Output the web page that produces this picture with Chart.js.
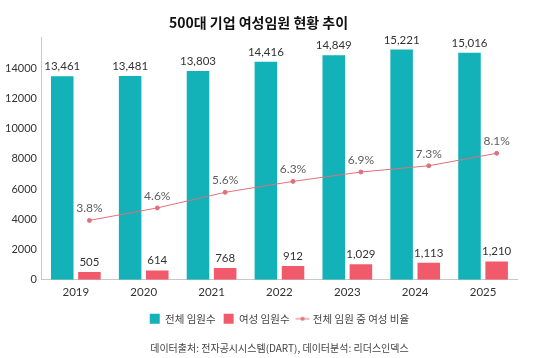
<!DOCTYPE html>
<html>
<head>
<meta charset="utf-8">
<script src="https://cdn.jsdelivr.net/npm/chart.js@4/dist/chart.umd.min.js"></script>
<style>
  html, body { margin: 0; padding: 0; background: #fff; }
  #wrap { width: 535px; height: 358px; }
</style>
</head>
<body>
<div id="wrap"><canvas id="chart" width="535" height="358"></canvas></div>
<script>
// data
const years = ['2019', '2020', '2021', '2022', '2023', '2024', '2025'];
const totalExecs = [13461, 13481, 13803, 14416, 14849, 15221, 15016];
const femaleExecs = [505, 614, 768, 912, 1029, 1113, 1210];
const femaleRatio = [3.8, 4.6, 5.6, 6.3, 6.9, 7.3, 8.1];

const TEAL = '#13b1b8';
const PINK = '#f05a6b';
const LINE = '#e0707c';
const KR = "'Noto Sans CJK KR', 'Noto Sans', sans-serif";
const NUM = "Lato, 'Noto Sans', sans-serif";

// legend icon for the line series: short line with a dot
function lineIcon() {
  const c = document.createElement('canvas');
  c.width = 16; c.height = 10;
  const g = c.getContext('2d');
  g.strokeStyle = LINE; g.lineWidth = 1;
  g.beginPath(); g.moveTo(1, 5); g.lineTo(15, 5); g.stroke();
  g.fillStyle = LINE;
  g.beginPath(); g.arc(8, 5, 2, 0, Math.PI * 2); g.fill();
  return c;
}

// in the reference the ratio points sit over the pink bars, not the category centre
const alignLineToBars = {
  id: 'alignLineToBars',
  afterDatasetsUpdate(chart) {
    const bars = chart.getDatasetMeta(1).data;
    chart.getDatasetMeta(2).data.forEach((pt, j) => { pt.x = bars[j].x; });
  }
};

// value labels above bars and points
const valueLabels = {
  id: 'valueLabels',
  afterDatasetsDraw(chart) {
    const ctx = chart.ctx;
    ctx.save();
    ctx.textAlign = 'center';
    ctx.textBaseline = 'bottom';
    chart.data.datasets.forEach((ds, i) => {
      const meta = chart.getDatasetMeta(i);
      meta.data.forEach((el, j) => {
        if (ds.type === 'line') {
          ctx.font = '12px ' + NUM;
          ctx.fillStyle = '#5e5e5e';
          ctx.fillText(ds.data[j].toFixed(1) + '%', el.x, el.y - 6);
        } else {
          ctx.font = '11.5px ' + NUM;
          ctx.fillStyle = '#333';
          ctx.fillText(ds.data[j].toLocaleString('en-US'), el.x, el.y - 4);
        }
      });
    });
    ctx.restore();
  }
};

const ctx = document.getElementById('chart').getContext('2d');
const chart = new Chart(ctx, {
  type: 'bar',
  data: {
    labels: years,
    datasets: [
      { label: '전체 임원수', data: totalExecs, backgroundColor: TEAL, order: 2 },
      { label: '여성 임원수', data: femaleExecs, backgroundColor: PINK, order: 2 },
      { type: 'line', label: '전체 임원 중 여성 비율', data: femaleRatio,
        yAxisID: 'y1',
        borderColor: LINE, backgroundColor: LINE, borderWidth: 1,
        pointRadius: 2, pointHoverRadius: 2, tension: 0, order: 1 }
    ]
  },
  options: {
    responsive: false,
    animation: false,
    datasets: { bar: { categoryPercentage: 0.8, barPercentage: 0.83 } },
    layout: { padding: { left: 0, right: 18, top: 6, bottom: 4 } },
    plugins: {
      title: {
        display: true,
        text: '500대 기업 여성임원 현황 추이',
        color: '#111',
        font: { family: KR, size: 14, weight: 'bold' },
        padding: { top: 8, bottom: 7 }
      },
      subtitle: {
        display: true,
        position: 'bottom',
        fullSize: false,
        text: '데이터출처: 전자공시시스템(DART), 데이터분석: 리더스인덱스',
        color: '#444',
        font: { family: KR, size: 10 },
        padding: { top: 8, bottom: 0 }
      },
      legend: {
        position: 'bottom',
        fullSize: false,
        labels: {
          color: '#444',
          font: { family: KR, size: 10.5 },
          boxWidth: 10, boxHeight: 10,
          padding: 8,
          usePointStyle: true,
          generateLabels(c) {
            return c.data.datasets.map((ds, i) => ({
              text: ds.label,
              fillStyle: ds.backgroundColor,
              strokeStyle: ds.backgroundColor,
              lineWidth: 0,
              pointStyle: ds.type === 'line' ? lineIcon() : 'rect',
              fontColor: '#444',
              datasetIndex: i
            }));
          }
        }
      },
      tooltip: { enabled: false }
    },
    scales: {
      x: {
        grid: { display: false, drawTicks: false },
        border: { display: true, color: '#c8c8c8' },
        ticks: { color: '#333', font: { family: NUM, size: 11.5 }, padding: 6 }
      },
      y: {
        min: 0, max: 16000,
        grid: { display: false, drawTicks: false },
        border: { display: true, color: '#c8c8c8' },
        ticks: {
          stepSize: 2000, color: '#333', padding: 5,
          font: { family: NUM, size: 11 },
          callback: v => (v >= 16000 ? '' : v)
        }
      },
      y1: {
        position: 'right', display: false,
        min: 0, max: 15.5
      }
    }
  },
  plugins: [alignLineToBars, valueLabels]
});
</script>
</body>
</html>
